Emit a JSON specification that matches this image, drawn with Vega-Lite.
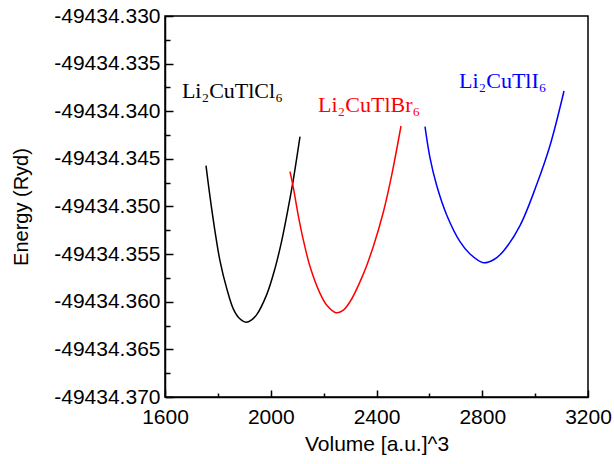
{
  "$schema": "https://vega.github.io/schema/vega-lite/v6.json",
  "width": 423,
  "height": 381,
  "autosize": {"type": "none"},
  "padding": {"left": 165, "top": 16, "right": 26, "bottom": 67},
  "background": "white",
  "config": {
    "view": {"stroke": "black", "strokeWidth": 1.5},
    "axis": {
      "domainColor": "black", "domainWidth": 1.5,
      "tickColor": "black", "tickWidth": 1.5,
      "labelColor": "black", "titleColor": "black",
      "labelFont": "Liberation Sans", "titleFont": "Liberation Sans",
      "labelFontSize": 21, "titleFontWeight": "normal",
      "grid": false, "labelFlush": false, "labelOverlap": false
    }
  },
  "datasets": {
    "curves": [
      {"series": "Cl", "V": 1755.1, "E": -49434.345717},
      {"series": "Cl", "V": 1770.2, "E": -49434.348972},
      {"series": "Cl", "V": 1789.1, "E": -49434.352600},
      {"series": "Cl", "V": 1808.0, "E": -49434.355700},
      {"series": "Cl", "V": 1833.4, "E": -49434.358600},
      {"series": "Cl", "V": 1858.3, "E": -49434.360750},
      {"series": "Cl", "V": 1881.0, "E": -49434.361739},
      {"series": "Cl", "V": 1906.4, "E": -49434.362158},
      {"series": "Cl", "V": 1927.9, "E": -49434.361900},
      {"series": "Cl", "V": 1946.9, "E": -49434.361350},
      {"series": "Cl", "V": 1984.7, "E": -49434.359250},
      {"series": "Cl", "V": 2016.1, "E": -49434.356500},
      {"series": "Cl", "V": 2041.4, "E": -49434.353600},
      {"series": "Cl", "V": 2066.4, "E": -49434.350100},
      {"series": "Cl", "V": 2085.3, "E": -49434.347200},
      {"series": "Cl", "V": 2110.6, "E": -49434.342672},
      {"series": "Br", "V": 2072.8, "E": -49434.346347},
      {"series": "Br", "V": 2085.3, "E": -49434.348000},
      {"series": "Br", "V": 2104.2, "E": -49434.350950},
      {"series": "Br", "V": 2123.1, "E": -49434.353500},
      {"series": "Br", "V": 2148.5, "E": -49434.356300},
      {"series": "Br", "V": 2186.3, "E": -49434.359114},
      {"series": "Br", "V": 2212.8, "E": -49434.360400},
      {"series": "Br", "V": 2246.8, "E": -49434.361151},
      {"series": "Br", "V": 2273.3, "E": -49434.360900},
      {"series": "Br", "V": 2299.8, "E": -49434.360000},
      {"series": "Br", "V": 2350.1, "E": -49434.357100},
      {"series": "Br", "V": 2387.9, "E": -49434.354200},
      {"series": "Br", "V": 2425.7, "E": -49434.350600},
      {"series": "Br", "V": 2457.5, "E": -49434.346700},
      {"series": "Br", "V": 2492.7, "E": -49434.341549},
      {"series": "I", "V": 2583.5, "E": -49434.341622},
      {"series": "I", "V": 2602.4, "E": -49434.344900},
      {"series": "I", "V": 2627.7, "E": -49434.347800},
      {"series": "I", "V": 2665.5, "E": -49434.350893},
      {"series": "I", "V": 2715.8, "E": -49434.353696},
      {"series": "I", "V": 2753.7, "E": -49434.354988},
      {"series": "I", "V": 2804.0, "E": -49434.355901},
      {"series": "I", "V": 2844.4, "E": -49434.355565},
      {"series": "I", "V": 2879.6, "E": -49434.354700},
      {"series": "I", "V": 2942.8, "E": -49434.352000},
      {"series": "I", "V": 3005.9, "E": -49434.347700},
      {"series": "I", "V": 3056.3, "E": -49434.343600},
      {"series": "I", "V": 3109.2, "E": -49434.337874}
    ],
    "labels": [
      {"series": "Cl", "V": 1664, "E": -49434.33861, "label": "Li₂CuTlCl₆"},
      {"series": "Br", "V": 2179, "E": -49434.34008, "label": "Li₂CuTlBr₆"},
      {"series": "I", "V": 2712, "E": -49434.33756, "label": "Li₂CuTlI₆"}
    ]
  },
  "resolve": {"axis": {"x": "independent", "y": "independent"}},
  "layer": [
    {
      "data": {"name": "curves"},
      "mark": {"type": "line", "strokeWidth": 1.5, "interpolate": "catmull-rom"},
      "encoding": {
        "x": {
          "field": "V", "type": "quantitative",
          "scale": {"domain": [1600, 3200], "nice": false, "zero": false},
          "axis": {
            "orient": "bottom",
            "title": "Volume [a.u.]^3", "titleFontSize": 21, "titlePadding": 6,
            "values": [1600, 2000, 2400, 2800, 3200],
            "format": "d",
            "ticks": false,
            "labelPadding": 9
          }
        },
        "y": {
          "field": "E", "type": "quantitative",
          "scale": {"domain": [-49434.37, -49434.33], "nice": false, "zero": false},
          "axis": {
            "orient": "left",
            "title": "Energy (Ryd)", "titleFontSize": 20, "titlePadding": 22,
            "values": [-49434.37, -49434.365, -49434.36, -49434.355, -49434.35, -49434.345, -49434.34, -49434.335, -49434.33],
            "labelExpr": "'-' + format(abs(datum.value), '.3f')",
            "ticks": false,
            "labelPadding": 5
          }
        },
        "color": {
          "field": "series", "type": "nominal",
          "scale": {"domain": ["Cl", "Br", "I"], "range": ["#000000", "#ff0000", "#0000ff"]},
          "legend": null
        },
        "detail": {"field": "series"}
      }
    },
    {
      "data": {"name": "curves"},
      "mark": {"type": "point", "opacity": 0},
      "encoding": {
        "x": {
          "field": "V", "type": "quantitative",
          "axis": {"orient": "bottom", "offset": -7, "tickSize": 7, "domain": false, "labels": false, "title": null,
                   "values": [1600, 2000, 2400, 2800, 3200]}
        },
        "y": {
          "field": "E", "type": "quantitative",
          "axis": {"orient": "left", "offset": -8, "tickSize": 8, "domain": false, "labels": false, "title": null,
                   "values": [-49434.37, -49434.365, -49434.36, -49434.355, -49434.35, -49434.345, -49434.34, -49434.335, -49434.33]}
        }
      }
    },
    {
      "data": {"name": "curves"},
      "mark": {"type": "point", "opacity": 0},
      "encoding": {
        "x": {
          "field": "V", "type": "quantitative",
          "axis": {"orient": "bottom", "offset": -4, "tickSize": 4, "domain": false, "labels": false, "title": null,
                   "values": [1800, 2200, 2600, 3000]}
        },
        "y": {
          "field": "E", "type": "quantitative",
          "axis": {"orient": "left", "offset": -5, "tickSize": 5, "domain": false, "labels": false, "title": null,
                   "values": [-49434.3675, -49434.3625, -49434.3575, -49434.3525, -49434.3475, -49434.3425, -49434.3375, -49434.3325]}
        }
      }
    },
    {
      "data": {"name": "labels"},
      "mark": {"type": "text", "align": "left", "baseline": "alphabetic", "font": "Liberation Serif", "fontSize": 22},
      "encoding": {
        "x": {"field": "V", "type": "quantitative", "axis": null},
        "y": {"field": "E", "type": "quantitative", "axis": null},
        "text": {"field": "label"},
        "color": {"field": "series", "type": "nominal", "legend": null}
      }
    }
  ]
}
